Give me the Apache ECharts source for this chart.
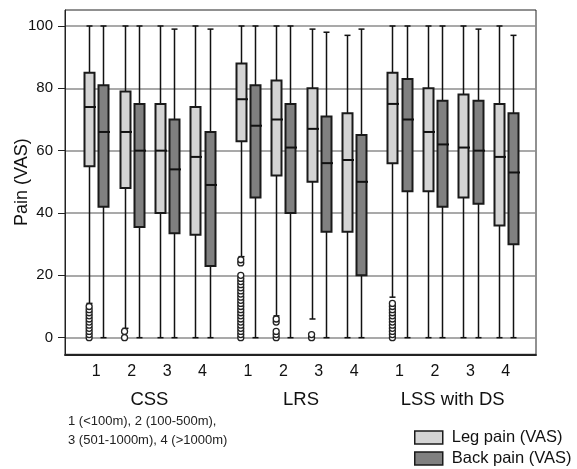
<!DOCTYPE html>
<html>
<head>
<meta charset="utf-8">
<script src="https://cdn.jsdelivr.net/npm/echarts@6/dist/echarts.min.js"></script>
<style>
html,body{margin:0;padding:0;background:#fff;}
#chart{width:577px;height:469px;}
</style>
</head>
<body>
<div id="chart"></div>
<script>
// ---- data ----
const groups = ['CSS', 'LRS', 'LSS with DS'];
const levels = ['1', '2', '3', '4'];
const seriesNames = ['Leg pain (VAS)', 'Back pain (VAS)'];
const yTicks = [0, 20, 40, 60, 80, 100];
const footnote = ['1 (<100m), 2 (100-500m),', '3 (501-1000m), 4 (>1000m)'];

// [lower whisker, Q1, median, Q3, upper whisker], group by group, level 1..4
const legBoxes = [
  [11, 55, 74, 85, 100], [3, 48, 66, 79, 100], [0, 40, 60, 75, 100], [0, 33, 58, 74, 100],
  [26, 63, 76.5, 88, 100], [7, 52, 70, 82.5, 100], [6, 50, 67, 80, 99], [0, 34, 57, 72, 97],
  [13, 56, 75, 85, 100], [0, 47, 66, 80, 100], [0, 45, 61, 78, 100], [0, 36, 58, 75, 100]
];
const backBoxes = [
  [0, 42, 66, 81, 100], [0, 35.5, 60, 75, 100], [0, 33.5, 54, 70, 99], [0, 23, 49, 66, 99],
  [0, 45, 68, 81, 100], [0, 40, 61, 75, 100], [0, 34, 56, 71, 98], [0, 20, 50, 65, 99],
  [0, 47, 70, 83, 100], [0, 42, 62, 76, 100], [0, 43, 60, 76, 99], [0, 30, 53, 72, 97]
];
const legOutliers = [
  [0, 1, 2, 3, 4, 5, 6, 7, 8, 9, 10], [0, 2], [], [],
  [0, 1, 2, 3, 4, 5, 6, 7, 8, 9, 10, 11, 12, 13, 14, 15, 16, 17, 18, 19, 20, 24, 25], [0, 1, 2, 5, 6], [0, 1], [],
  [0, 1, 2, 3, 4, 5, 6, 7, 8, 9, 10, 11], [], [], []
];
const backOutliers = [[], [], [], [], [], [], [], [], [], [], [], []];

// ---- layout (positions on the x value axis) ----
const GROUP_STEP = 4.283;
const PAIR_OFFSET = 0.202;
const X_MIN = -0.884, X_MAX = 12.42;
const pairPos = [];
groups.forEach((g, gi) => levels.forEach((l, li) => pairPos.push(gi * GROUP_STEP + li)));
const groupPos = groups.map((g, gi) => gi * GROUP_STEP + 1.5);

function boxData(boxes, off) {
  return boxes.map((b, i) => [pairPos[i] + off].concat(b));
}
function outlierData(outs, off) {
  const res = [];
  outs.forEach((arr, i) => arr.forEach(v => res.push([pairPos[i] + off, v])));
  return res;
}

const FONT = '"Liberation Sans", Arial, sans-serif';
const fills = ['#d4d4d4', '#808080'];

function makeRender(fill) {
  return function (params, api) {
    const x = api.value(0);
    const lo = api.coord([x, api.value(1)]);
    const q1 = api.coord([x, api.value(2)]);
    const md = api.coord([x, api.value(3)]);
    const q3 = api.coord([x, api.value(4)]);
    const hi = api.coord([x, api.value(5)]);
    const cx = Math.round(lo[0]) + 0.5;
    const hw = 5, cw = 3;
    const lineStyle = {stroke: '#111', lineWidth: 1.5};
    return {
      type: 'group',
      children: [
        {type: 'line', shape: {x1: cx, y1: lo[1], x2: cx, y2: hi[1]}, style: lineStyle},
        {type: 'line', shape: {x1: cx - cw, y1: hi[1], x2: cx + cw, y2: hi[1]}, style: lineStyle},
        {type: 'line', shape: {x1: cx - cw, y1: lo[1], x2: cx + cw, y2: lo[1]}, style: lineStyle},
        {type: 'rect', shape: {x: cx - hw, y: q3[1], width: hw * 2, height: q1[1] - q3[1]},
          style: {fill: fill, stroke: '#1a1a1a', lineWidth: 2}},
        {type: 'line', shape: {x1: cx - hw, y1: md[1], x2: cx + hw + 1.5, y2: md[1]},
          style: {stroke: '#111', lineWidth: 2}}
      ]
    };
  };
}

const chart = echarts.init(document.getElementById('chart'), null, {renderer: 'canvas'});
const option = {
  animation: false,
  backgroundColor: '#fff',
  textStyle: {fontFamily: FONT},
  title: {
    text: footnote.join('\n'),
    left: 68, top: 412.5, padding: 0,
    textStyle: {fontFamily: FONT, fontSize: 13, fontWeight: 'normal', color: '#222', lineHeight: 18.7}
  },
  legend: {
    orient: 'vertical',
    left: 414, top: 429, padding: 0,
    itemWidth: 28, itemHeight: 13, itemGap: 4,
    icon: 'rect',
    textStyle: {fontFamily: FONT, fontSize: 16.5, color: '#111', padding: [0, 0, 0, 4]},
    data: seriesNames.map((n, i) => ({name: n, itemStyle: {color: fills[i], borderColor: '#1a1a1a', borderWidth: 1.5}}))
  },
  grid: {left: 65, right: 41, top: 10, bottom: 114.7, show: true, borderColor: '#222', borderWidth: 1,
    containLabel: false, outerBoundsMode: 'none'},
  xAxis: [{
    type: 'value', min: X_MIN, max: X_MAX, position: 'bottom',
    axisLine: {show: true, onZero: false, lineStyle: {color: '#222', width: 2}},
    axisTick: {show: false},
    splitLine: {show: false},
    axisLabel: {
      customValues: pairPos, margin: 9, fontSize: 16, color: '#111', fontFamily: FONT,
      formatter: v => { const i = pairPos.findIndex(p => Math.abs(p - v) < 1e-3); return i >= 0 ? levels[i % 4] : ''; }
    }
  }, {
    type: 'value', min: X_MIN, max: X_MAX, position: 'bottom',
    axisLine: {show: false, onZero: false},
    axisTick: {show: false},
    splitLine: {show: false},
    axisLabel: {
      customValues: groupPos, margin: 36, fontSize: 18.5, color: '#111', fontFamily: FONT,
      formatter: v => { const i = groupPos.findIndex(p => Math.abs(p - v) < 1e-3); return i >= 0 ? groups[i] : ''; }
    }
  }],
  yAxis: {
    type: 'value', min: -5.33, max: 105.13,
    name: 'Pain (VAS)', nameLocation: 'middle', nameGap: 34, nameMoveOverlap: false,
    nameTextStyle: {fontFamily: FONT, fontSize: 18, color: '#111'},
    axisLine: {show: true, onZero: false, lineStyle: {color: '#222', width: 1}},
    axisTick: {show: true, customValues: yTicks, length: 7, lineStyle: {color: '#222'}},
    axisLabel: {customValues: yTicks, margin: 12, fontSize: 15, color: '#111', fontFamily: FONT},
    splitLine: {show: true, lineStyle: {color: '#8c8c8c', width: 1.5}}
  },
  series: [
    {
      name: seriesNames[0], type: 'custom', xAxisIndex: 0,
      itemStyle: {color: fills[0]},
      renderItem: makeRender(fills[0]),
      encode: {x: 0, y: [1, 2, 3, 4, 5]},
      data: boxData(legBoxes, -PAIR_OFFSET), z: 3
    },
    {
      name: seriesNames[1], type: 'custom', xAxisIndex: 0,
      itemStyle: {color: fills[1]},
      renderItem: makeRender(fills[1]),
      encode: {x: 0, y: [1, 2, 3, 4, 5]},
      data: boxData(backBoxes, PAIR_OFFSET), z: 3
    },
    {
      name: 'Leg outliers', type: 'scatter', xAxisIndex: 0, symbol: 'circle', symbolSize: 6,
      itemStyle: {color: '#fff', borderColor: '#222', borderWidth: 1.3, opacity: 1},
      data: outlierData(legOutliers, -PAIR_OFFSET), z: 4
    },
    {
      name: 'Back outliers', type: 'scatter', xAxisIndex: 0, symbol: 'circle', symbolSize: 6,
      itemStyle: {color: '#fff', borderColor: '#222', borderWidth: 1.3, opacity: 1},
      data: outlierData(backOutliers, PAIR_OFFSET), z: 4
    }
  ]
};
chart.setOption(option);
</script>
</body>
</html>
